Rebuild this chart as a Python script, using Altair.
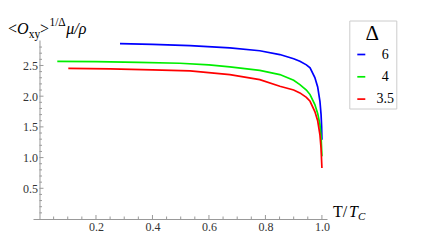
import altair as alt
import pandas as pd

# ---- data ----
deltas = ["6", "4", "3.5"]
colors = ["#0000ff", "#00ee00", "#ff0000"]

t_6 = [0.285, 0.40, 0.533, 0.674, 0.78, 0.851, 0.90, 0.922, 0.945, 0.958, 0.975, 0.985, 0.993, 0.997, 0.999, 1.0]
v_6 = [2.857, 2.845, 2.824, 2.787, 2.74, 2.678, 2.61, 2.568, 2.51, 2.461, 2.303, 2.15, 1.917, 1.70, 1.50, 1.29]

t_4 = [0.063, 0.20, 0.35, 0.497, 0.60, 0.674, 0.78, 0.851, 0.90, 0.922, 0.945, 0.958, 0.975, 0.985, 0.993, 0.997, 1.0]
v_4 = [2.568, 2.562, 2.55, 2.536, 2.51, 2.477, 2.42, 2.352, 2.26, 2.189, 2.10, 2.026, 1.863, 1.72, 1.54, 1.35, 1.02]

t_35 = [0.102, 0.25, 0.40, 0.533, 0.674, 0.78, 0.851, 0.90, 0.922, 0.945, 0.958, 0.975, 0.985, 0.993, 0.997, 1.0]
v_35 = [2.454, 2.445, 2.43, 2.412, 2.352, 2.27, 2.161, 2.10, 2.054, 1.98, 1.917, 1.75, 1.60, 1.37, 1.15, 0.83]

x_labels = [0.2, 0.4, 0.6, 0.8, 1.0]
y_labels = [0.5, 1.0, 1.5, 2.0, 2.5]
x_minor = [0.05, 0.1, 0.15, 0.25, 0.3, 0.35, 0.45, 0.5, 0.55, 0.65, 0.7, 0.75, 0.85, 0.9, 0.95]
y_minor = [0.1, 0.2, 0.3, 0.4, 0.6, 0.7, 0.8, 0.9, 1.1, 1.2, 1.3, 1.4, 1.6, 1.7, 1.8, 1.9,
           2.1, 2.2, 2.3, 2.4, 2.6, 2.7, 2.8]

# ---- tables ----
rows = []
for d, ts, vs in [("6", t_6, v_6), ("4", t_4, v_4), ("3.5", t_35, v_35)]:
    for i, (t, v) in enumerate(zip(ts, vs)):
        rows.append({"delta": d, "t": t, "v": v, "i": i})
df = pd.DataFrame(rows)

W, H = 294, 179
XDOM = [-0.023, 1.018]
YDOM = [0.0, 2.915]
AXIS_GRAY = "#999999"
LABEL_COLOR = "#333333"
SERIF = "Liberation Serif"

xs = alt.Scale(domain=XDOM, nice=False, zero=False)
ys = alt.Scale(domain=YDOM, nice=False, zero=False)

# tick lengths in data units (inward ticks)
px_x = (XDOM[1] - XDOM[0]) / W
px_y = (YDOM[1] - YDOM[0]) / H

PAD = "\u00a0" * 7

lines = alt.Chart(df).mark_line(strokeWidth=1.7, clip=False).encode(
    x=alt.X("t:Q", scale=xs, axis=alt.Axis(
        values=x_labels, format=".1f", ticks=False, tickSize=0, grid=False, title=None,
        domainColor=AXIS_GRAY, domainWidth=1, labelFont=SERIF, labelFontSize=12,
        labelColor=LABEL_COLOR, labelPadding=2)),
    y=alt.Y("v:Q", scale=ys, axis=alt.Axis(
        values=y_labels, format=".1f", ticks=False, tickSize=0, grid=False, title=None,
        offset=-(0 - XDOM[0]) / px_x,
        domainColor=AXIS_GRAY, domainWidth=1, labelFont=SERIF, labelFontSize=12,
        labelColor=LABEL_COLOR, labelPadding=2)),
    color=alt.Color("delta:N", sort=deltas,
                    scale=alt.Scale(domain=deltas, range=colors),
                    legend=alt.Legend(
                        title="Δ", orient="none", legendX=316.3, legendY=-19.5,
                        direction="vertical",
                        titleFont=SERIF, titleFontSize=21, titleFontWeight="normal",
                        titleColor="black", titleAnchor="middle", titlePadding=4,
                        labelFont=SERIF, labelFontSize=14, labelColor="black",
                        labelAlign="center", labelOffset=17,
                        labelExpr=f"'{PAD}' + datum.label + '{PAD}'",
                        symbolType="stroke", symbolSize=64, symbolStrokeWidth=1.7,
                        symbolOffset=3,
                        rowPadding=8.3, padding=2, strokeColor="#cccccc",
                        fillColor="white", cornerRadius=0)),
    detail="delta:N",
    order="i:Q",
)

major_x = pd.DataFrame({"x": x_labels})
minor_x = pd.DataFrame({"x": x_minor})
major_y = pd.DataFrame({"y": y_labels})
minor_y = pd.DataFrame({"y": y_minor})

def xticks(data, n):
    return alt.Chart(data).mark_rule(color=AXIS_GRAY, strokeWidth=1).encode(
        x=alt.X("x:Q", scale=xs),
        y=alt.Y(datum=0.0, scale=ys),
        y2=alt.Y2(datum=n * px_y),
    )

def yticks(data, n):
    return alt.Chart(data).mark_rule(color=AXIS_GRAY, strokeWidth=1).encode(
        y=alt.Y("y:Q", scale=ys),
        x=alt.X(datum=0.0, scale=xs),
        x2=alt.X2(datum=n * px_x),
    )

def piece(text, x, y, size, italic=False):
    return alt.Chart(pd.DataFrame({"s": [text]})).mark_text(
        font=SERIF, fontSize=size, fontStyle="italic" if italic else "normal",
        align="left", baseline="alphabetic", color="black",
    ).encode(text="s:N", x=alt.value(x), y=alt.value(y))

# y title: <O_xy>^{1/Δ} μ/ρ   (positions relative to plot origin)
ytitle = [
    piece("<", -25, -6, 16),
    piece("O", -16, -6, 16, True),
    piece("xy", -4.3, -2.5, 11.5),
    piece(">", 7, -6, 16),
    piece("1/Δ", 16.4, -14, 11.5),
    piece("μ/ρ", 33.3, -6, 16, True),
]
# x title: T/T_C
xtitle = [
    piece("T/", 300, 177, 16),
    piece("T", 316, 177, 16, True),
    piece("C", 325, 180, 11, True),
]

chart = alt.layer(
    xticks(major_x, 4), xticks(minor_x, 2.5),
    yticks(major_y, 4), yticks(minor_y, 2.5),
    lines, *ytitle, *xtitle,
).properties(
    width=W, height=H,
    autosize=alt.AutoSizeParams(type="none"),
    padding={"left": 25, "top": 32, "right": 84, "bottom": 19},
).configure_view(stroke=None).configure_axis(
    labelFont=SERIF
).configure_legend(labelFont=SERIF, titleFont=SERIF)

chart.save("out.html", embed_options={"renderer": "svg", "actions": False})
